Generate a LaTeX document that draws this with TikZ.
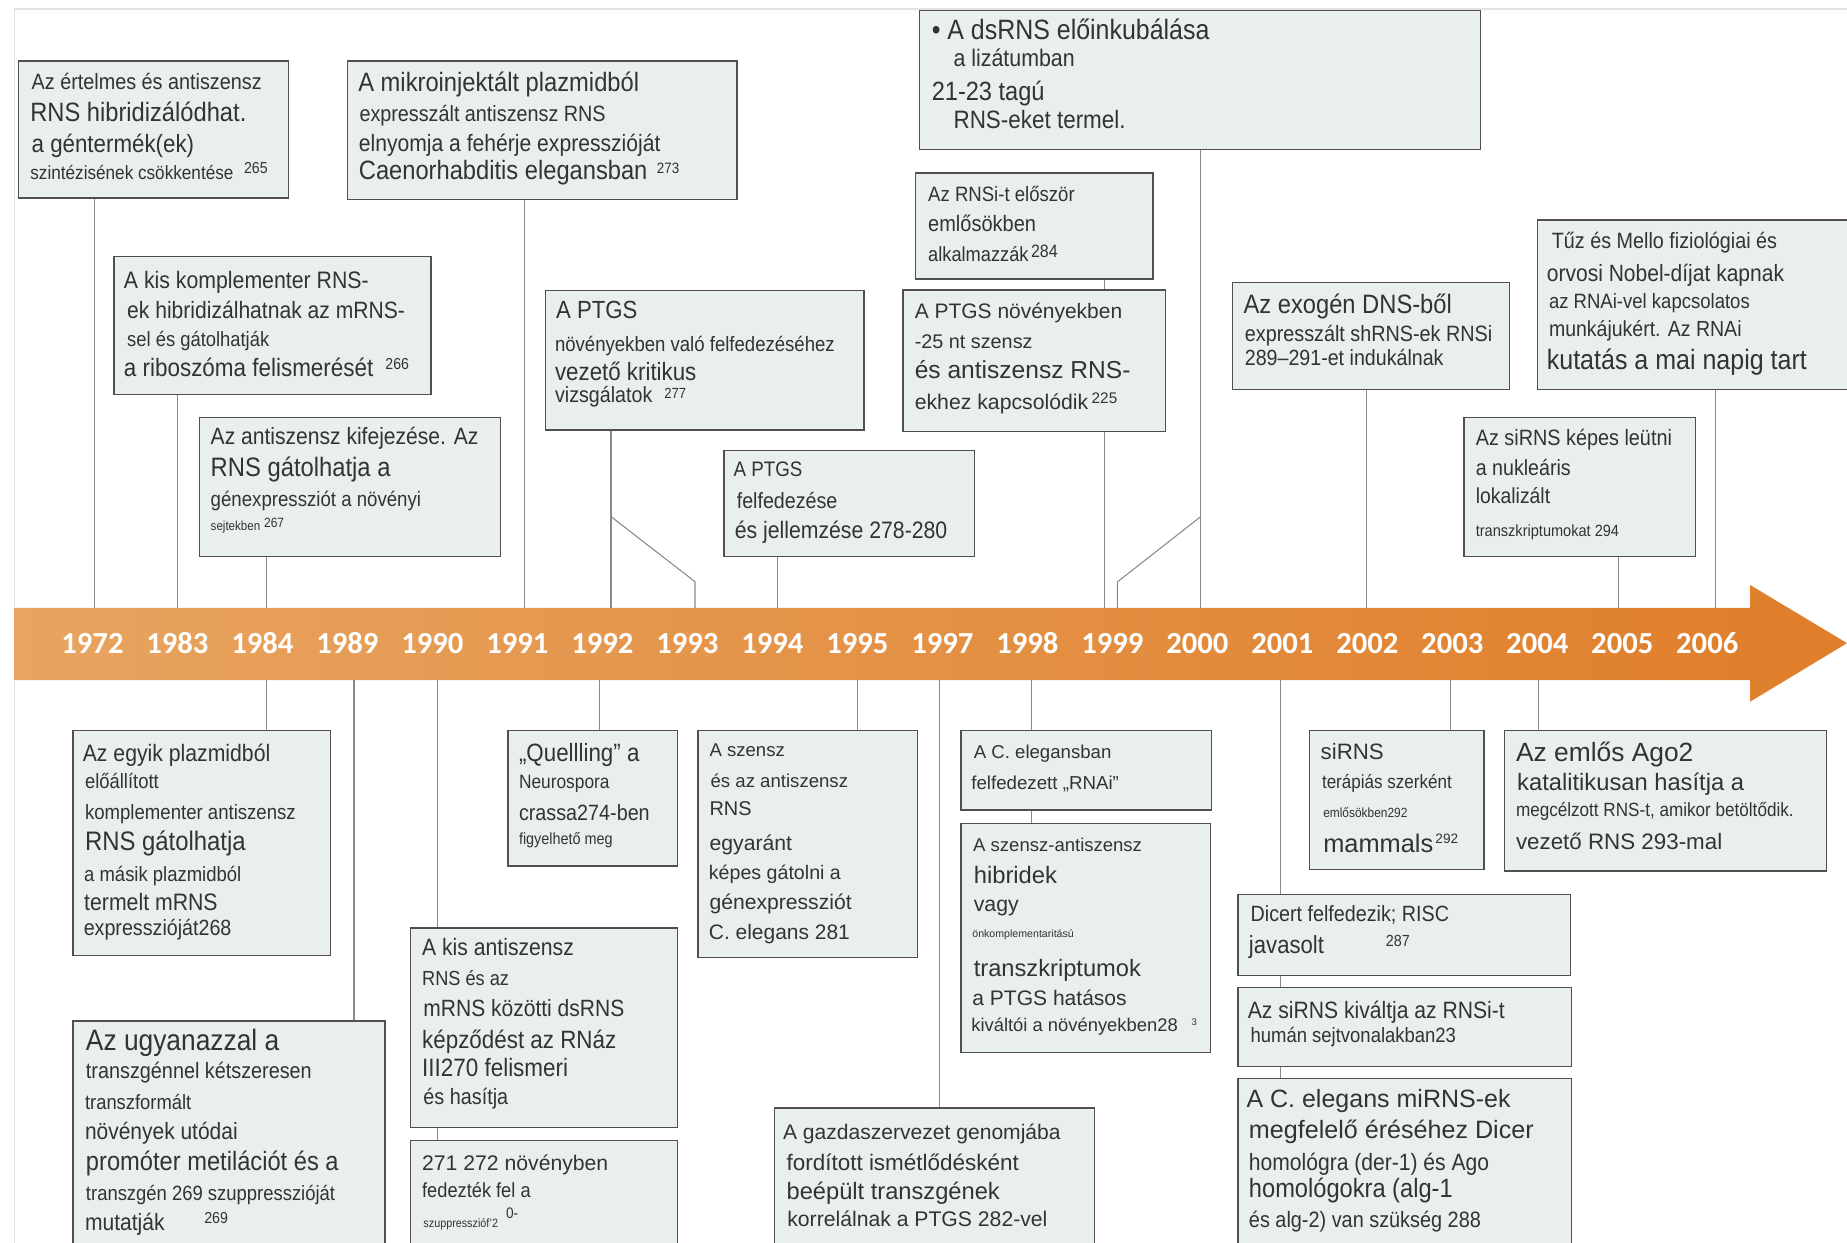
\documentclass[tikz,border=0pt]{standalone}
\usepackage{fontspec}
\setmainfont{Liberation Sans}
\newfontfamily\yearfont{Carlito}
\usepackage{graphicx}
\usetikzlibrary{fit}
\definecolor{boxfill}{HTML}{E9EEEF}
\definecolor{boxline}{HTML}{505050}
\definecolor{connline}{HTML}{8A8A8A}
\definecolor{txtcol}{HTML}{333333}
\definecolor{bandL}{HTML}{E8A460}
\definecolor{bandR}{HTML}{DF7E2A}
\definecolor{framecol}{HTML}{E2E2E2}
\newcounter{tlnum}
\newcommand{\tl}[5][1.12]{\stepcounter{tlnum}\node[txt] (t\arabic{tlnum}) at (#2,#3) {\resizebox{#4pt}{!}{\scalebox{1}[#1]{#5}}};}
\newcommand{\bx}[5]{\node[boxstyle, fit={(#2,#3) (#4,#5)}] (#1) {};}
\begin{document}
\begin{tikzpicture}[x=1pt,y=-1pt,
  txt/.style={anchor=base west, inner sep=0pt, text=txtcol, font=\fontsize{20}{24}\selectfont},
  boxstyle/.style={rectangle, draw=boxline, fill=boxfill, line width=1.2pt, inner sep=0pt},
  conn/.style={draw=connline, line width=0.9pt},
  yearlbl/.style={anchor=base, inner sep=0pt, text=white, font=\yearfont\bfseries\fontsize{26}{30}\selectfont}]
\useasboundingbox (0,0) rectangle (1568,1054.4);
\clip (0,0) rectangle (1568,1054.4);
\fill[white] (0,0) rectangle (1568,1054.4);
\draw[framecol, line width=1pt] (12.3,1060) -- (12.3,7.6) -- (1570,7.6);

% ---------- boxes ----------
\bx{a1}{15.6}{51.8}{244.9}{168}
\bx{a2}{295}{51.8}{625.5}{169.5}
\bx{a3}{96.7}{218}{366}{335}
\bx{a4}{169.5}{354.3}{425}{472.6}
\bx{a5}{462.9}{246.5}{733.6}{365}
\bx{a6}{614.5}{382.6}{827.3}{472.6}
\bx{a7}{780.5}{9}{1257}{126.8}
\bx{a8}{777.2}{147}{978.9}{237}
\bx{a9}{766.5}{246.2}{989.5}{366.5}
\bx{a10}{1046.1}{240}{1281.5}{330.5}
\bx{a11}{1305.3}{186.8}{1580}{330.5}
\bx{a12}{1243}{354.6}{1439.2}{472.6}
\bx{b1}{61.8}{620}{280.5}{811.4}
\bx{b2}{61.8}{866.6}{326.7}{1070}
\bx{b3}{431.3}{620}{575.3}{735.2}
\bx{b4}{348.7}{787.9}{575.3}{957.3}
\bx{b5}{348.7}{968.4}{575.3}{1070}
\bx{b6}{592.5}{620}{778.9}{812.9}
\bx{b7}{657.6}{940.6}{929}{1070}
\bx{b8}{815.9}{620}{1028.5}{687.6}
\bx{b9}{815.9}{699}{1027.6}{893.6}
\bx{b10}{1111.5}{620}{1259.8}{738.1}
\bx{b11}{1277.3}{620}{1550.5}{739.5}
\bx{b12}{1051}{759.2}{1333.3}{828.2}
\bx{b13}{1051}{838.4}{1334}{905.3}
\bx{b14}{1051}{915.6}{1334}{1070}

% ---------- connector coordinates ----------
\coordinate (ct1972) at (80.1,516);
\coordinate (ct1983) at (150.5,516);
\coordinate (ct1984) at (226.3,516);
\coordinate (ct1991) at (445,516);
\coordinate (ct1992) at (518.7,516);
\coordinate (ct1993) at (590,516);
\coordinate (ct1994) at (660,516);
\coordinate (ct1999) at (937.3,516);
\coordinate (ct1999b) at (948.6,516);
\coordinate (ct2000) at (1018.8,516);
\coordinate (ct2002) at (1160.4,516);
\coordinate (ct2005) at (1374.1,516);
\coordinate (ct2006) at (1456.2,516);
\coordinate (k1) at (518.7,438.6);
\coordinate (k2) at (590,493.8);
\coordinate (k3) at (1018.8,439);
\coordinate (k4) at (948.6,494);
\coordinate (cb1984) at (226.3,577.3);
\coordinate (cb1989) at (300.5,577.3);
\coordinate (cb1990) at (371.4,577.3);
\coordinate (cb1992) at (509,577.3);
\coordinate (cb1995) at (728.2,577.3);
\coordinate (cb1997) at (797.4,577.3);
\coordinate (cb1998) at (875.3,577.3);
\coordinate (cb2001) at (1087,577.3);
\coordinate (cb2003) at (1231.6,577.3);
\coordinate (cb2004) at (1306,577.3);

% ---------- connectors ----------
\draw[conn] (a1.south -| ct1972) -- (ct1972);
\draw[conn] (a3.south -| ct1983) -- (ct1983);
\draw[conn] (a4.south -| ct1984) -- (ct1984);
\draw[conn] (a2.south -| ct1991) -- (ct1991);
\draw[conn] (a5.south -| ct1992) -- (ct1992);
\draw[conn] (k1) -- (k2) -- (ct1993);
\draw[conn] (a6.south -| ct1994) -- (ct1994);
\draw[conn] (a8.south -| ct1999) -- (a9.north -| ct1999);
\draw[conn] (a9.south -| ct1999) -- (ct1999);
\draw[conn] (k3) -- (k4) -- (ct1999b);
\draw[conn] (a7.south -| ct2000) -- (ct2000);
\draw[conn] (a10.south -| ct2002) -- (ct2002);
\draw[conn] (a12.south -| ct2005) -- (ct2005);
\draw[conn] (a11.south -| ct2006) -- (ct2006);
\draw[conn] (cb1984) -- (cb1984 |- b1.north);
\draw[conn] (cb1989) -- (cb1989 |- b2.north);
\draw[conn] (cb1990) -- (cb1990 |- b4.north);
\draw[conn] (b4.south -| cb1990) -- (b5.north -| cb1990);
\draw[conn] (cb1992) -- (cb1992 |- b3.north);
\draw[conn] (cb1995) -- (cb1995 |- b6.north);
\draw[conn] (cb1997) -- (cb1997 |- b7.north);
\draw[conn] (cb1998) -- (cb1998 |- b8.north);
\draw[conn] (b8.south -| cb1998) -- (b9.north -| cb1998);
\draw[conn] (cb2001) -- (cb2001 |- b12.north);
\draw[conn] (b12.south -| cb2001) -- (b13.north -| cb2001);
\draw[conn] (b13.south -| cb2001) -- (b14.north -| cb2001);
\draw[conn] (cb2003) -- (cb2003 |- b10.north);
\draw[conn] (cb2004) -- (cb2004 |- b11.north);

% ---------- timeline band ----------
\shade[left color=bandL, right color=bandR] (11.9,516) -- (1485.7,516) -- (1485.7,496.6) -- (1568,546) -- (1485.7,595.7) -- (1485.7,577.3) -- (11.9,577.3) -- cycle;
\foreach \yr [count=\i from 0] in {1972,1983,1984,1989,1990,1991,1992,1993,1994,1995,1997,1998,1999,2000,2001,2002,2003,2004,2005,2006}
  \node[yearlbl] (yr\yr) at ({78.5+72.15*\i},554.7) {\yr};

% ---------- texts: top ----------
\tl{26.7}{76}{195.3}{Az értelmes és antiszensz}
\tl{25.5}{103.5}{183.5}{RNS hibridizálódhat.}
\tl{26.7}{129.6}{137.9}{a géntermék(ek)}
\tl{25.6}{152.8}{172.4}{szintézisének csökkentése}
\tl{207}{147.5}{20}{265}

\tl{304}{77.8}{238.4}{A mikroinjektált plazmidból}
\tl{305}{103.3}{209}{expresszált antiszensz RNS}
\tl{304.5}{128.8}{256}{elnyomja a fehérje expresszióját}
\tl{304.5}{152.8}{245}{Caenorhabditis elegansban}
\tl{557.5}{147.5}{19}{273}

\tl{105}{244.8}{207.8}{A kis komplementer RNS-}
\tl{107.8}{270.2}{235.8}{ek hibridizálhatnak az mRNS-}
\tl{107.8}{294.3}{120.6}{sel és gátolhatják}
\tl{105}{319.8}{211.8}{a riboszóma felismerését}
\tl{327}{314}{20}{266}

\tl{178.7}{377}{227.3}{Az antiszensz kifejezése. Az}
\tl{178.7}{404.7}{152.7}{RNS gátolhatja a}
\tl{178.7}{429.6}{178.6}{génexpressziót a növényi}
\tl{178.7}{450.5}{42}{sejtekben}
\tl{224}{448}{17}{267}

\tl{472}{270}{69}{A PTGS}
\tl{471}{298.5}{237.5}{növényekben való felfedezéséhez}
\tl{471}{322.6}{120}{vezető kritikus}
\tl{471}{342}{82.6}{vizsgálatok}
\tl{563.8}{338}{18.6}{277}

\tl{622.6}{404.7}{58.4}{A PTGS}
\tl{625.3}{431.5}{85.4}{felfedezése}
\tl{623.6}{457}{180.4}{és jellemzése 278-280}

\tl{790.8}{33.4}{235.8}{• A dsRNS előinkubálása}
\tl{809.3}{56.6}{102.9}{a lizátumban}
\tl{790.8}{84.9}{95.8}{21-23 tagú}
\tl{809.3}{109.5}{146.1}{RNS-eket termel.}

\tl{787.8}{171.2}{124.4}{Az RNSi-t először}
\tl{787.8}{196.7}{91.5}{emlősökben}
\tl{787.8}{222.2}{85.2}{alkalmazzák}
\tl{875.1}{219}{22.7}{284}

\tl[1]{776.4}{270.2}{176.1}{A PTGS növényekben}
\tl[1]{776.4}{295.7}{100}{-25 nt szensz}
\tl[1]{776.4}{321.2}{183.1}{és antiszensz RNS-}
\tl[1]{776.4}{347.5}{147.3}{ekhez kapcsolódik}
\tl[1]{926.6}{342.4}{21.7}{225}

\tl{1055.5}{266}{176.9}{Az exogén DNS-ből}
\tl{1056.6}{290.1}{210.1}{expresszált shRNS-ek RNSi}
\tl{1056.6}{310.4}{168.7}{289–291-et indukálnak}

\tl{1317.2}{210.8}{191.3}{Tűz és Mello fiziológiai és}
\tl{1313}{239.1}{201.4}{orvosi Nobel-díjat kapnak}
\tl{1314.8}{261.8}{170.5}{az RNAi-vel kapcsolatos}
\tl{1314.8}{285.8}{163.5}{munkájukért. Az RNAi}
\tl{1313}{314.1}{220.7}{kutatás a mai napig tart}

\tl{1252.7}{377.8}{166.5}{Az siRNS képes leütni}
\tl{1252.7}{403.3}{80.6}{a nukleáris}
\tl{1252.7}{427.3}{63.1}{lokalizált}
\tl{1252.7}{455.6}{121.6}{transzkriptumokat 294}

% ---------- texts: bottom ----------
\tl{70.1}{646.5}{159.2}{Az egyik plazmidból}
\tl{72}{669.1}{62.6}{előállított}
\tl{72}{695.6}{178.9}{komplementer antiszensz}
\tl{72}{722}{136.4}{RNS gátolhatja}
\tl{71.3}{748.4}{133.3}{a másik plazmidból}
\tl{71.3}{772.7}{113.3}{termelt mRNS}
\tl{70.9}{794.4}{125.4}{expresszióját268}

\tl{72.8}{892.1}{164.1}{Az ugyanazzal a}
\tl{72.8}{915.6}{191.7}{transzgénnel kétszeresen}
\tl{72}{942}{90.2}{transzformált}
\tl{72}{967}{129.6}{növények utódai}
\tl{72.8}{993.4}{214.5}{promóter metilációt és a}
\tl{72.8}{1019.2}{211.5}{transzgén 269 szuppresszióját}
\tl{72}{1044.7}{67.5}{mutatják}
\tl{173.2}{1038.9}{20.1}{269}

\tl{440.4}{646.5}{102.3}{„Quellling” a}
\tl{440.4}{669.1}{76.9}{Neurospora}
\tl{440.4}{696.4}{111}{crassa274-ben}
\tl{440.4}{717}{79.6}{figyelhető meg}

\tl{358.2}{811.4}{128.8}{A kis antiszensz}
\tl{358.2}{836.4}{73.8}{RNS és az}
\tl{359.3}{862.8}{170.5}{mRNS közötti dsRNS}
\tl{358.2}{890.1}{164.8}{képződést az RNáz}
\tl{358.2}{914.2}{123.9}{III270 felismeri}
\tl{359.3}{937.6}{72}{és hasítja}

\tl[1]{358.2}{994}{158}{271 272 növényben}
\tl{358.2}{1016.2}{92.1}{fedezték fel a}
\tl{359.3}{1041.8}{63.3}{szuppresszióf'2}
\tl{429.4}{1034.5}{10.3}{0-}

\tl[1]{602.2}{641.8}{63.9}{A szensz}
\tl[1]{603.1}{668.2}{116.7}{és az antiszensz}
\tl[1]{602.2}{692.6}{35.7}{RNS}
\tl[1]{602.2}{722}{70}{egyaránt}
\tl[1]{601.6}{746.3}{112.1}{képes gátolni a}
\tl[1]{602.2}{771.8}{120.6}{génexpressziót}
\tl[1]{601.6}{797.4}{119.7}{C. elegans 281}

\tl[1]{664.6}{967.6}{235.6}{A gazdaszervezet genomjába}
\tl[1]{667.6}{994}{197.1}{fordított ismétlődésként}
\tl[1]{667.6}{1018.3}{181}{beépült transzgének}
\tl[1]{668.2}{1040.9}{220.8}{korrelálnak a PTGS 282-vel}

\tl[1]{826.5}{644.2}{116.8}{A C. elegansban}
\tl[1]{824.4}{670}{125.3}{felfedezett „RNAi”}

\tl[1]{826}{722.5}{143.3}{A szensz-antiszensz}
\tl[1]{826.5}{749.8}{70.7}{hibridek}
\tl[1]{826.5}{773.9}{38.2}{vagy}
\tl[1]{825.3}{796.2}{86.1}{önkomplementaritású}
\tl[1]{826.5}{829}{141.9}{transzkriptumok}
\tl[1]{825.3}{854}{131}{a PTGS hatásos}
\tl[1]{824.4}{875.4}{175.3}{kiváltói a növényekben28}
\tl[1]{1011.5}{870.2}{4.5}{3}

\tl[1]{1121}{644.8}{53.6}{siRNS}
\tl{1122.1}{669.1}{110.3}{terápiás szerként}
\tl{1123.2}{694}{71.4}{emlősökben292}
\tl[1]{1123.2}{723.4}{93.4}{mammals}
\tl[1]{1218.4}{716}{19.3}{292}

\tl[1]{1286.8}{646.2}{150.6}{Az emlős Ago2}
\tl[1]{1287.8}{671.2}{192.6}{katalitikusan hasítja a}
\tl{1286.8}{693.5}{235.7}{megcélzott RNS-t, amikor betöltődik.}
\tl[1]{1286.8}{721}{175.1}{vezető RNS 293-mal}

\tl{1061.5}{782.1}{168.5}{Dicert felfedezik; RISC}
\tl{1060.1}{809.4}{63.7}{javasolt}
\tl{1176.4}{803.5}{20.3}{287}

\tl{1059.1}{864.8}{218.2}{Az siRNS kiváltja az RNSi-t}
\tl{1061.5}{885.4}{174.4}{humán sejtvonalakban23}

\tl[1]{1058}{940}{224.2}{A C. elegans miRNS-ek}
\tl[1]{1060.1}{966.4}{241.7}{megfelelő éréséhez Dicer}
\tl{1060.1}{993.4}{203.9}{homológra (der-1) és Ago}
\tl{1060.1}{1016.9}{173}{homológokra (alg-1}
\tl{1060.1}{1041.8}{196.9}{és alg-2) van szükség 288}
\end{tikzpicture}
\end{document}
